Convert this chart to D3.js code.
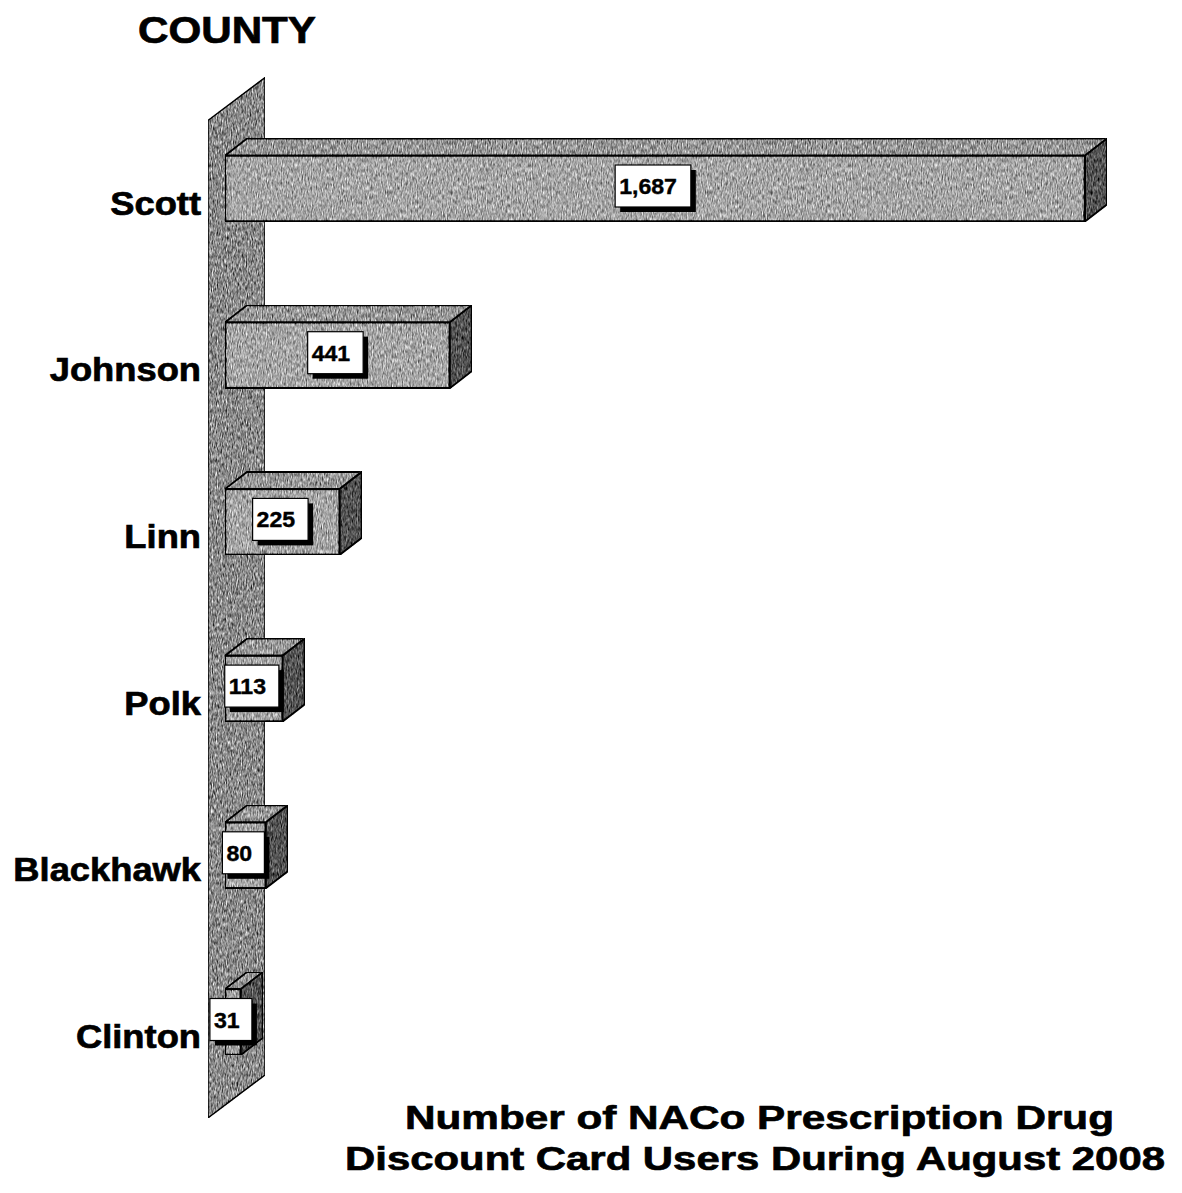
<!DOCTYPE html>
<html>
<head>
<meta charset="utf-8">
<script src="https://cdn.jsdelivr.net/npm/d3@7"></script>
<style>
  html, body { margin: 0; padding: 0; background: #fff; }
  svg { display: block; }
  text { font-family: "Liberation Sans", Arial, Helvetica, sans-serif; font-weight: bold; fill: #000; stroke: #000; stroke-width: 0.7px; }
</style>
</head>
<body>
<svg id="chart" width="1182" height="1193"></svg>
<script>
// ---- data ----
const counties = ["Scott", "Johnson", "Linn", "Polk", "Blackhawk", "Clinton"];
const values = [1687, 441, 225, 113, 80, 31];
const valueLabels = ["1,687", "441", "225", "113", "80", "31"];
const axisTitle = "COUNTY";
const titleLines = ["Number of NACo Prescription Drug", "Discount Card Users During August 2008"];

// ---- layout ----
const svg = d3.select("#chart");
const stretch = 1.12;

const x = d3.scaleLinear().domain([0, d3.max(values)]).range([225, 1085]);
const y = d3.scalePoint().domain(counties).range([188.5, 1022]);
const barH = 66, dx = 22, dy = -17;

const wallFill = "#8c8c8c", frontFill = "#a7a7a7", topFill = "#9a9a9a", sideFill = "#555555";

// grain texture (scanned dithering look)
const defs = svg.append("defs");
const f = defs.append("filter").attr("id", "grain")
  .attr("x", 0).attr("y", 0).attr("width", 1).attr("height", 1)
  .attr("color-interpolation-filters", "sRGB");
f.append("feTurbulence").attr("type", "fractalNoise").attr("baseFrequency", "0.8 0.22")
  .attr("numOctaves", 2).attr("seed", 7).attr("result", "noise");
f.append("feColorMatrix").attr("in", "noise").attr("type", "matrix")
  .attr("values", "0.33 0.33 0.33 0 0  0.33 0.33 0.33 0 0  0.33 0.33 0.33 0 0  0 0 0 0 1")
  .attr("result", "gray");
const ct = f.append("feComponentTransfer").attr("in", "gray").attr("result", "contrast");
["feFuncR", "feFuncG", "feFuncB"].forEach(n => ct.append(n).attr("type", "linear").attr("slope", 2.2).attr("intercept", -0.6));
f.append("feBlend").attr("in", "contrast").attr("in2", "SourceGraphic").attr("mode", "overlay").attr("result", "b");
f.append("feComposite").attr("in", "b").attr("in2", "SourceAlpha").attr("operator", "in");

function stretchText(sel, factor) {
  sel.each(function () {
    const w = this.getComputedTextLength();
    d3.select(this).attr("textLength", w * factor).attr("lengthAdjust", "spacingAndGlyphs");
  });
}

// ---- wall ----
const wx0 = x(0) - 17, wx1 = x(0) + 40;
const wTop = y(counties[0]) - 68, wBot = y(counties[counties.length - 1]) + 96;
const wSlant = -43;
svg.append("path")
  .attr("d", `M${wx0},${wTop} L${wx1},${wTop + wSlant} L${wx1},${wBot + wSlant} L${wx0},${wBot} Z`)
  .attr("fill", wallFill)
  .attr("filter", "url(#grain)")
  .attr("stroke", "#000")
  .attr("stroke-width", 1.5);

// ---- bars ----
const data = counties.map((c, i) => ({ c, v: values[i], lab: valueLabels[i] }));
const bars = svg.append("g").selectAll("g").data(data).join("g");

bars.each(function (d) {
  const g = d3.select(this);
  const x0 = x(0), x1 = x(d.v);
  const yt = y(d.c) - barH / 2, yb = y(d.c) + barH / 2;
  g.append("path")
    .attr("d", `M${x0},${yt} L${x0 + dx},${yt + dy} L${x1 + dx},${yt + dy} L${x1},${yt} Z`)
    .attr("fill", topFill).attr("filter", "url(#grain)")
    .attr("stroke", "#000").attr("stroke-width", 2).attr("stroke-linejoin", "round");
  g.append("path")
    .attr("d", `M${x1},${yt} L${x1 + dx},${yt + dy} L${x1 + dx},${yb + dy} L${x1},${yb} Z`)
    .attr("fill", sideFill).attr("filter", "url(#grain)")
    .attr("stroke", "#000").attr("stroke-width", 2).attr("stroke-linejoin", "round");
  g.append("rect")
    .attr("x", x0).attr("y", yt).attr("width", x1 - x0).attr("height", barH)
    .attr("fill", frontFill).attr("filter", "url(#grain)")
    .attr("stroke", "#000").attr("stroke-width", 2.5);

  // value label box
  const cx = (x0 + x1) / 2 - 2, cy = y(d.c) - 2.5;
  const shadow = g.append("rect").attr("fill", "#000");
  const box = g.append("rect").attr("fill", "#fff").attr("stroke", "#000").attr("stroke-width", 1.2);
  const t = g.append("text").attr("font-size", 22).style("stroke-width", "0.4px").text(d.lab);
  stretchText(t, 1.05);
  const tw = t.node().getComputedTextLength() * 1.05;
  const bw = tw + 15, bh = 42;
  const bx = cx - bw / 2, by = cy - bh / 2;
  shadow.attr("x", bx + 5).attr("y", by + 5).attr("width", bw).attr("height", bh);
  box.attr("x", bx).attr("y", by).attr("width", bw).attr("height", bh);
  t.attr("x", bx + 4).attr("y", cy + 8);
});

// ---- category labels ----
svg.append("g").selectAll("text").data(counties).join("text")
  .attr("x", 201)
  .attr("y", d => y(d) + 26)
  .attr("text-anchor", "end")
  .attr("font-size", 33)
  .text(d => d)
  .call(stretchText, 1.1);

// ---- axis title ----
svg.append("text")
  .attr("x", 138).attr("y", 43)
  .attr("font-size", 37)
  .attr("textLength", 178).attr("lengthAdjust", "spacingAndGlyphs")
  .text(axisTitle);

// ---- chart title ----
const titleX = [405, 345], titleY = [1129, 1170], titleLen = [709, 820];
svg.append("g").selectAll("text").data(titleLines).join("text")
  .attr("x", (d, i) => titleX[i])
  .attr("y", (d, i) => titleY[i])
  .attr("font-size", 34)
  .attr("textLength", (d, i) => titleLen[i]).attr("lengthAdjust", "spacingAndGlyphs")
  .text(d => d);
</script>
</body>
</html>
